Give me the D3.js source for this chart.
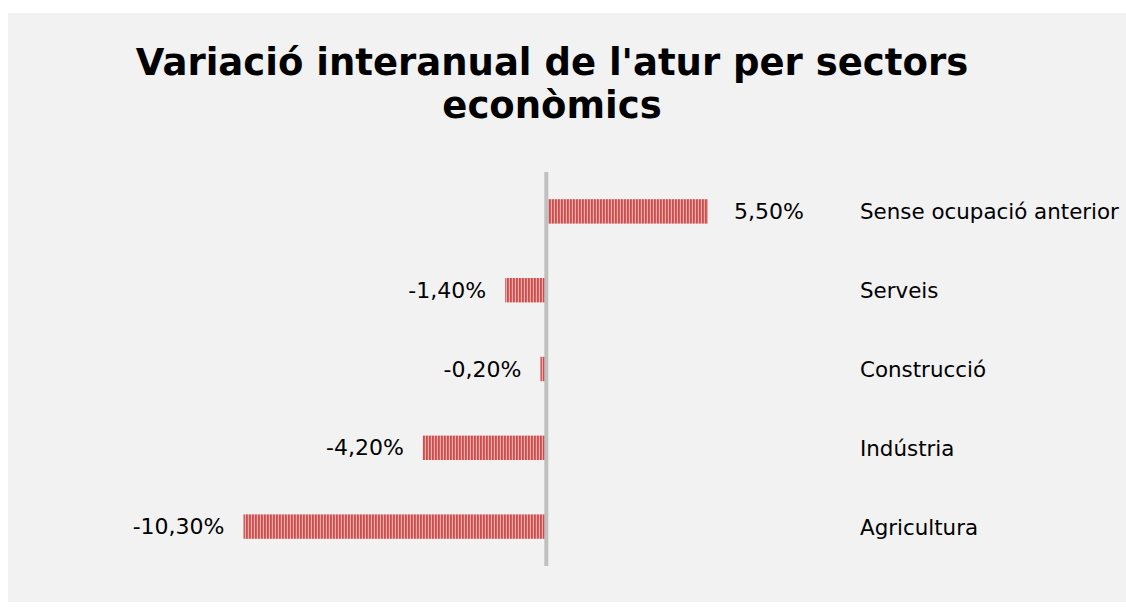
<!DOCTYPE html>
<html>
<head>
<meta charset="utf-8">
<script src="https://cdn.jsdelivr.net/npm/d3@7"></script>
<style>
  html, body { margin: 0; padding: 0; background: #ffffff; }
  svg { display: block; }
</style>
</head>
<body>
<svg id="chart" width="1126" height="607"></svg>
<script>
const categories = ["Sense ocupació anterior", "Serveis", "Construcció", "Indústria", "Agricultura"];
const values = [5.5, -1.4, -0.2, -4.2, -10.3];
const valueLabels = ["5,50%", "-1,40%", "-0,20%", "-4,20%", "-10,30%"];
const titleLines = ["Variació interanual de l'atur per sectors", "econòmics"];

const svg = d3.select("#chart");
const font = "'DejaVu Sans', Verdana, sans-serif";

// panel background
svg.append("rect").attr("x", 8).attr("y", 13).attr("width", 1118).attr("height", 589).attr("fill", "#f2f2f2");

// stripe pattern
const defs = svg.append("defs");
const pat = defs.append("pattern").attr("id", "stripes").attr("patternUnits", "userSpaceOnUse")
  .attr("width", 3).attr("height", 10);
pat.append("rect").attr("width", 3).attr("height", 10).attr("fill", "#eba9a7");
pat.append("rect").attr("width", 1.8).attr("height", 10).attr("fill", "#c9504e");

// title
svg.append("text")
  .attr("x", 552).attr("text-anchor", "middle")
  .attr("font-family", font).attr("font-weight", "bold").attr("font-size", 37).attr("fill", "#000")
  .selectAll("tspan").data(titleLines).join("tspan")
  .attr("x", 552).attr("y", (d, i) => 75 + i * 43).text(d => d);

// scales
const x = d3.scaleLinear().domain([-10.3, 5.5]).range([243.5, 708]);
const y = d3.scaleBand().domain(categories).range([172, 566]).paddingInner(0.69).paddingOuter(0.345);

const data = categories.map((c, i) => ({ c, v: values[i], l: valueLabels[i] }));

// bars
svg.append("g").selectAll("rect").data(data).join("rect")
  .attr("x", d => Math.min(x(0), x(d.v)))
  .attr("width", d => Math.abs(x(d.v) - x(0)))
  .attr("y", d => y(d.c))
  .attr("height", y.bandwidth())
  .attr("fill", "url(#stripes)");

// zero axis line
svg.append("line")
  .attr("x1", x(0)).attr("x2", x(0)).attr("y1", 172).attr("y2", 566)
  .attr("stroke", "#c0c0c0").attr("stroke-width", 4);

// value labels
svg.append("g").selectAll("text").data(data).join("text")
  .attr("x", d => d.v >= 0 ? x(d.v) + 26 : x(d.v) - 19)
  .attr("y", d => y(d.c) + y.bandwidth() / 2 + 7.5)
  .attr("text-anchor", d => d.v >= 0 ? "start" : "end")
  .attr("font-family", font).attr("font-size", 22).attr("fill", "#000")
  .text(d => d.l);

// category labels
svg.append("g").selectAll("text").data(data).join("text")
  .attr("x", 860)
  .attr("y", d => y(d.c) + y.bandwidth() / 2 + 8)
  .attr("font-family", font).attr("font-size", 21.4).attr("fill", "#000")
  .text(d => d.c);
</script>
</body>
</html>
